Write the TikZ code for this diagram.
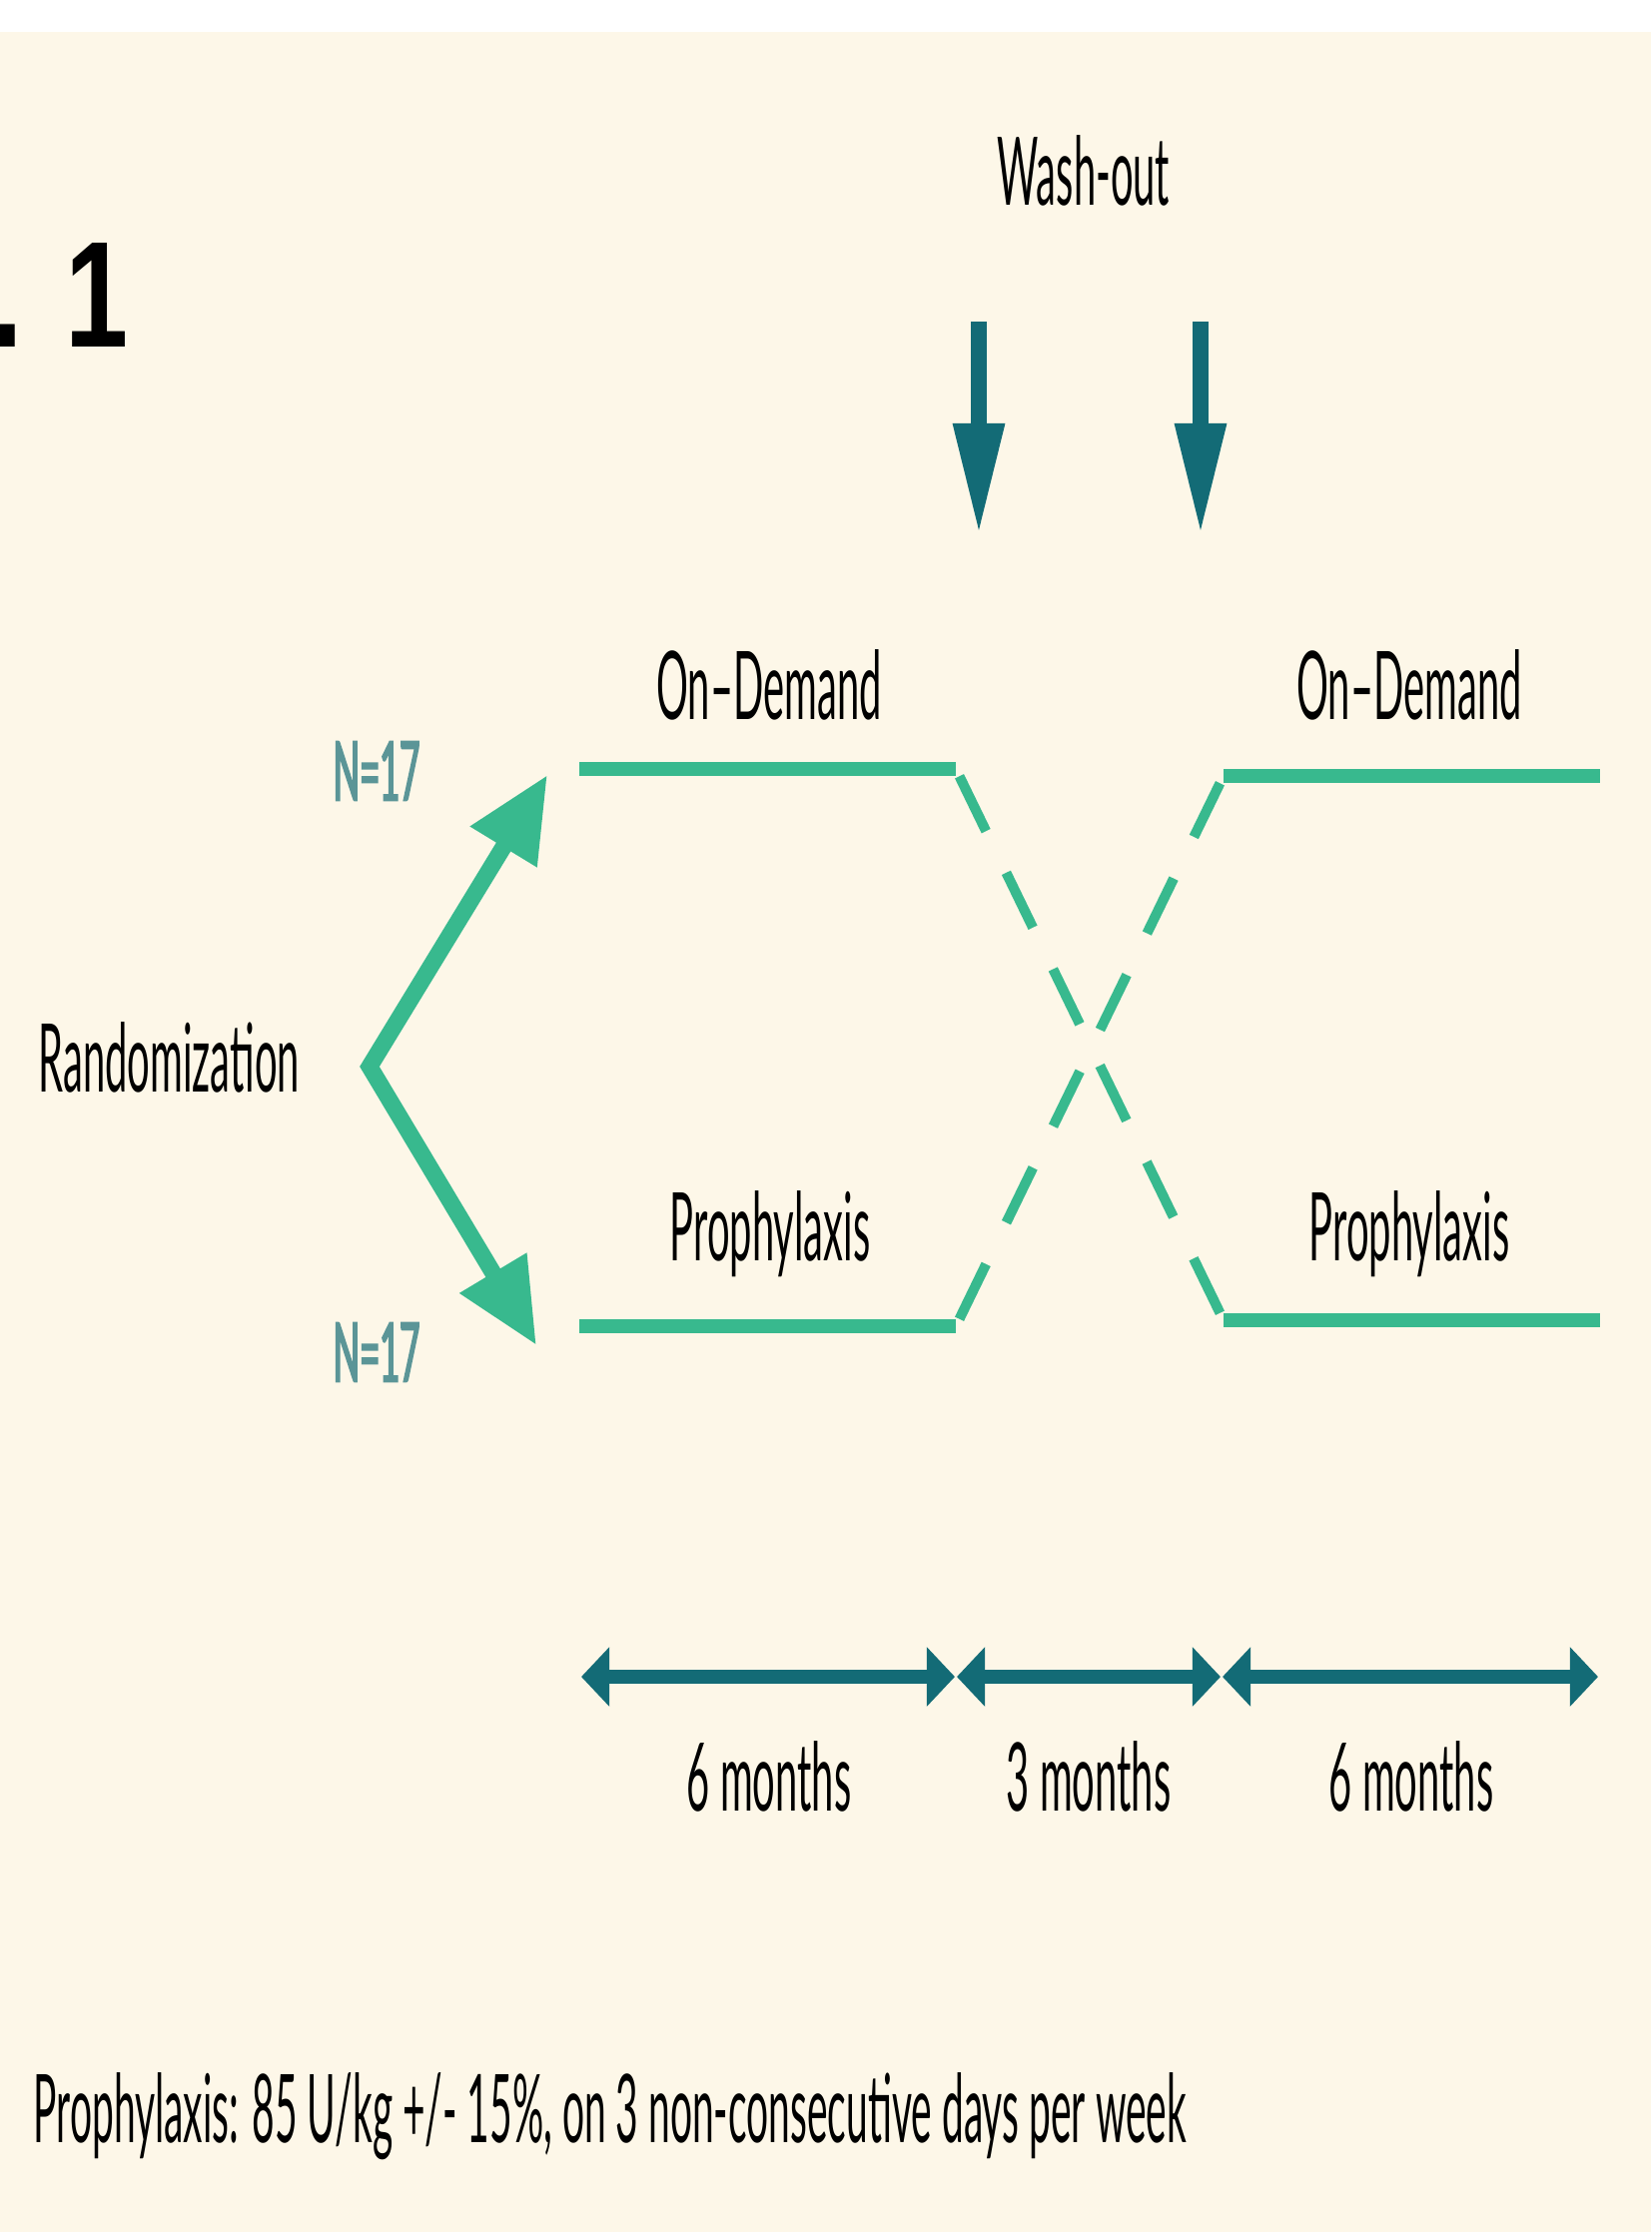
\documentclass[tikz,border=0pt]{standalone}
\usepackage{fontspec}
\setmainfont{Lato}
\newfontfamily\cond[FakeStretch=0.42]{Lato}
\newfontfamily\condn[FakeStretch=0.41]{Lato}
\newfontfamily\condb[FakeStretch=0.42,FakeBold=2.2]{Lato}
\newfontfamily\titlefont[FakeStretch=0.75]{Liberation Sans}
\usetikzlibrary{arrows.meta}
\definecolor{cream}{HTML}{FDF7E8}
\definecolor{mint}{HTML}{38B98E}
\definecolor{darkteal}{HTML}{136B76}
\definecolor{ncol}{HTML}{5B9597}
\tikzset{
  lbl/.style={font=\cond\fontsize{27}{32}\selectfont, text=black, inner sep=0pt, anchor=base},
  nlbl/.style={font=\condb\fontsize{23.4}{28}\selectfont, text=ncol, inner sep=0pt},
  arm/.style={draw=mint, line width=4pt},
  crossline/.style={draw=mint, line width=2.85pt, dash pattern=on 17.36pt off 13.17pt, shorten <=2.3pt, shorten >=2.3pt},
  randarr/.style={draw=mint, line width=4.8pt, {Triangle[length=24pt,width=21pt]}-{Triangle[length=24pt,width=21pt]}},
  washarr/.style={draw=darkteal, line width=4.3pt, -{Triangle[length=31.6pt,width=13.7pt]}},
  timearr/.style={draw=darkteal, line width=4pt, {Triangle[length=8pt,width=16.5pt]}-{Triangle[length=8pt,width=16.5pt]}}
}
\begin{document}
\begin{tikzpicture}[x=0.01cm,y=-0.01cm]
\useasboundingbox (0,0) rectangle (1653,2235);
\fill[white] (0,0) rectangle (1653,2235);
\fill[cream] (0,32) rectangle (1653,2235);

% title fragment
\node[font=\titlefont\bfseries\fontsize{43}{50}\selectfont, inner sep=0pt, anchor=base west] (fig) at (-9,347) {. 1};

% wash-out
\node[lbl] (wash) at (1085,205) {Wash-out};
\coordinate (w1s) at (980,322);
\coordinate (w1e) at (980,535);
\coordinate (w2s) at (1202,322);
\coordinate (w2e) at (1202,535);
\draw[washarr] (w1s) -- (w1e);
\draw[washarr] (w2s) -- (w2e);

% arm lines
\coordinate (ulS) at (580,770);
\coordinate (ulE) at (957,770);
\coordinate (llS) at (580,1328);
\coordinate (llE) at (957,1328);
\coordinate (urS) at (1225,777);
\coordinate (urE) at (1602,777);
\coordinate (lrS) at (1225,1322);
\coordinate (lrE) at (1602,1322);
\draw[arm] (ulS) -- (ulE);
\draw[arm] (llS) -- (llE);
\draw[arm] (urS) -- (urE);
\draw[arm] (lrS) -- (lrE);
\draw[crossline] (ulE) -- (lrS);
\draw[crossline] (llE) -- (urS);

\node[lbl] (odL) at (770,720) {On–Demand};
\node[lbl] (odR) at (1411,720) {On–Demand};
\node[lbl] (prL) at (771,1262) {Prophylaxis};
\node[lbl] (prR) at (1411,1262) {Prophylaxis};

% randomization
\node[lbl, anchor=base west] (rand) at (38,1093) {Randomization};
\coordinate (rv) at (370,1068);
\coordinate (rtU) at (548,776);
\coordinate (rtL) at (537,1347);
\draw[randarr] (rtU) -- (rv) -- (rtL);
\node[nlbl] (nU) at (377,772) {N=17};
\node[nlbl] (nL) at (377,1354) {N=17};

% timeline
\coordinate (t0) at (582,1679);
\coordinate (t1a) at (956,1679);
\coordinate (t1b) at (958,1679);
\coordinate (t2a) at (1222,1679);
\coordinate (t2b) at (1224,1679);
\coordinate (t3) at (1600,1679);
\draw[timearr] (t0) -- (t1a);
\draw[timearr] (t1b) -- (t2a);
\draw[timearr] (t2b) -- (t3);
\node[lbl] (m1) at (770,1813) {6 months};
\node[lbl] (m2) at (1090,1813) {3 months};
\node[lbl] (m3) at (1413,1813) {6 months};

% note
\node[lbl, font=\condn\fontsize{27}{32}\selectfont, anchor=base west] (note) at (33,2145) {Prophylaxis: 85 U/kg +/- 15\%, on 3 non-consecutive days per week};
\end{tikzpicture}
\end{document}
